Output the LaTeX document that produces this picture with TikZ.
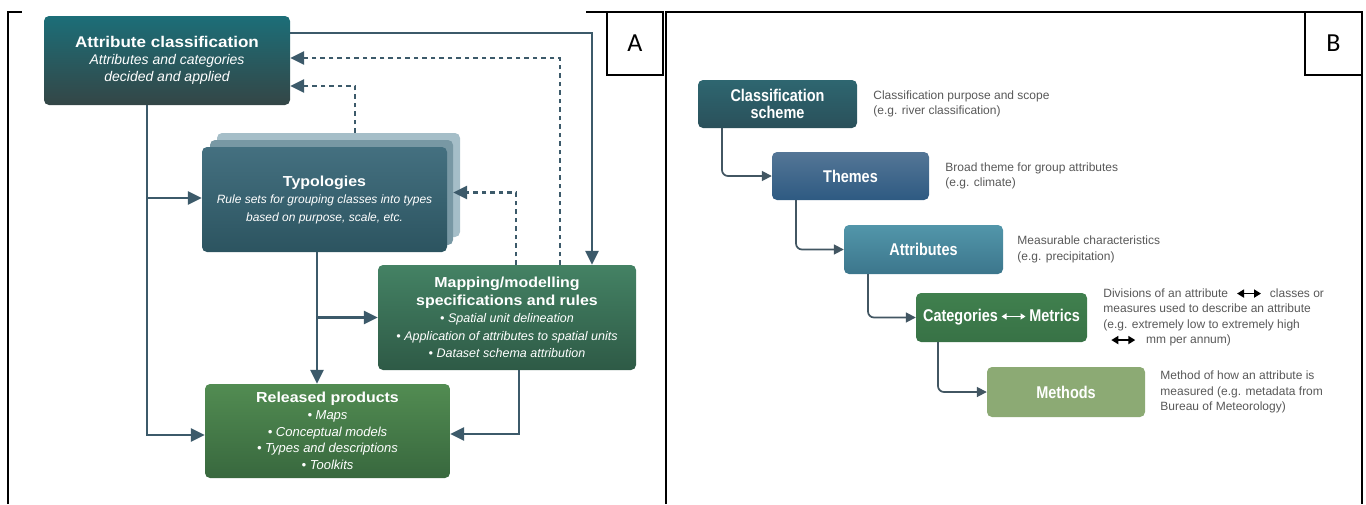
\documentclass[tikz,border=0pt]{standalone}
\usepackage{fontspec}
\setmainfont{Liberation Sans}
\newfontfamily\widefont[FakeStretch=1.1]{Liberation Sans}
\newfontfamily\narrowfont[FakeStretch=0.85]{Liberation Sans}
\newfontfamily\labelfont{Carlito}
\usetikzlibrary{arrows.meta}
\definecolor{acTop}{RGB}{28,110,120}
\definecolor{acBot}{RGB}{52,70,70}
\definecolor{typTop}{RGB}{68,112,128}
\definecolor{typBot}{RGB}{44,84,96}
\definecolor{typMid}{RGB}{120,152,164}
\definecolor{typBack}{RGB}{165,190,200}
\definecolor{mapTop}{RGB}{68,130,100}
\definecolor{mapBot}{RGB}{46,90,70}
\definecolor{rpTop}{RGB}{82,140,82}
\definecolor{rpBot}{RGB}{56,104,62}
\definecolor{csTop}{RGB}{46,102,112}
\definecolor{csBot}{RGB}{42,80,90}
\definecolor{thTop}{RGB}{84,118,150}
\definecolor{thBot}{RGB}{46,90,130}
\definecolor{atTop}{RGB}{82,150,170}
\definecolor{atBot}{RGB}{60,118,140}
\definecolor{catTop}{RGB}{64,128,78}
\definecolor{catBot}{RGB}{56,114,70}
\definecolor{meFill}{RGB}{140,170,116}
\definecolor{connA}{RGB}{60,90,106}
\definecolor{connB}{RGB}{66,86,98}
\definecolor{descGray}{RGB}{88,88,88}
\newcommand\dblarr[4]{\tikz[baseline=-0.6ex]\draw[#1,line width=#2,{Triangle[length=#3,width=#4]}-{Triangle[length=#3,width=#4]}] (0pt,0pt)--(24pt,0pt);}
\begin{document}
\begin{tikzpicture}[x=1pt,y=-1pt,
  box/.style={rounded corners=5pt, inner sep=0pt, align=center, text=white},
  back/.style={rounded corners=5pt, inner sep=0pt},
  conn/.style={draw=connA, line width=2.8pt, -{Triangle[length=14pt,width=13pt]}},
  dconn/.style={conn, dash pattern=on 4.5pt off 4pt},
  bconn/.style={draw=connB, line width=1.7pt, rounded corners=6pt, -{Triangle[length=10pt,width=10pt]}},
  desc/.style={anchor=west, align=left, inner sep=0pt, text=descGray, font=\fontsize{12}{15.5}\selectfont},
  btitle/.style={font=\narrowfont\bfseries\fontsize{17}{18}\selectfont},
  frame/.style={draw=black, line width=1.5pt},
  lbl/.style={draw=black, line width=1.2pt, inner sep=0pt, font=\labelfont\fontsize{26}{26}\selectfont}]
\useasboundingbox (0,0) rectangle (1366,504);
% ---------- frames ----------
\draw[frame] (8,504) -- (8,12) -- (22,12);
\draw[frame] (586,12) -- (607,12);
\draw[frame, line width=2pt] (666,504) -- (666,12) -- (1305,12);
\draw[frame] (1362,12) -- (1362,504);
\node[lbl, minimum width=56pt, minimum height=63pt] (labA) at (635,43.5) {A};
\node[lbl, minimum width=57pt, minimum height=63pt] (labB) at (1333.5,43.5) {B};
% ---------- panel A ----------
\node[box, minimum width=246pt, minimum height=89pt, top color=acTop, bottom color=acBot,
  font=\fontsize{14}{17}\selectfont] (ac) at (167,60.5)
  {{\widefont\bfseries\fontsize{15.5}{17}\selectfont Attribute classification}\\
   {\itshape Attributes and categories}\\ {\itshape decided and applied}};
\node[back, fill=typBack, minimum width=243pt, minimum height=104pt] (typb) at (338.5,185) {};
\node[back, fill=typMid, minimum width=243pt, minimum height=105pt] (typm) at (331.5,192.5) {};
\node[box, minimum width=245pt, minimum height=105pt, top color=typTop, bottom color=typBot,
  font=\fontsize{12}{17.5}\selectfont] (typ) at (324.5,199.5)
  {{\widefont\bfseries\fontsize{14.5}{17}\selectfont Typologies}\\
   {\itshape Rule sets for grouping classes into types}\\ {\itshape based on purpose, scale, etc.}};
\node[box, minimum width=258pt, minimum height=105pt, top color=mapTop, bottom color=mapBot,
  font=\fontsize{12.5}{17.5}\selectfont] (map) at (507,317.5)
  {{\widefont\bfseries\fontsize{14.5}{17}\selectfont Mapping/modelling}\\
   {\widefont\bfseries\fontsize{14.5}{17}\selectfont specifications and rules}\\
   {\itshape \textbullet\ Spatial unit delineation}\\
   {\itshape \textbullet\ Application of attributes to spatial units}\\
   {\itshape \textbullet\ Dataset schema attribution}};
\node[box, minimum width=245pt, minimum height=94pt, top color=rpTop, bottom color=rpBot,
  font=\fontsize{13}{16.8}\selectfont] (rp) at (327.5,431)
  {{\widefont\bfseries\fontsize{14.5}{17}\selectfont Released products}\\
   {\itshape \textbullet\ Maps}\\ {\itshape \textbullet\ Conceptual models}\\
   {\itshape \textbullet\ Types and descriptions}\\ {\itshape \textbullet\ Toolkits}};
% connectors A
\coordinate (trunk) at ([xshift=-20pt]ac.south);
\coordinate (tw) at ([yshift=1.5pt]typ.west);
\coordinate (ts) at ([xshift=-7.5pt]typ.south);
\draw[conn] (trunk) |- ([yshift=-4pt]rp.west);
\draw[conn] (trunk |- tw) -- (tw);
\draw[conn] ([yshift=27.5pt]ac.east) -| ([xshift=85pt]map.north);
\draw[dconn] ([xshift=53pt]map.north) |- ([yshift=2.5pt]ac.east);
\draw[dconn] ([xshift=16.5pt]typb.north) |- ([yshift=-25.5pt]ac.east);
\draw[dconn] ([xshift=9pt]map.north) |- (typm.east);
\draw[conn] (ts) -- (ts |- rp.north);
\draw[conn] (ts |- map.west) -- (map.west);
\draw[conn] ([xshift=12pt]map.south) |- ([yshift=-3pt]rp.east);
% ---------- panel B ----------
\node[box, btitle, minimum width=159pt, minimum height=48pt, top color=csTop, bottom color=csBot,
  font=\narrowfont\bfseries\fontsize{17}{17}\selectfont] (cs) at (777.5,104) {Classification\\scheme};
\node[box, btitle, minimum width=157pt, minimum height=48pt, top color=thTop, bottom color=thBot] (th) at (850.5,176) {Themes};
\node[box, btitle, minimum width=159pt, minimum height=49pt, top color=atTop, bottom color=atBot] (at) at (923.5,249.5) {Attributes};
\node[box, btitle, minimum width=171pt, minimum height=49pt, top color=catTop, bottom color=catBot] (cat) at (1001.5,317.5)
  {Categories\hspace{3pt}\dblarr{white}{1.4pt}{5pt}{6pt}\hspace{3pt}Metrics};
\node[box, btitle, minimum width=158pt, minimum height=50pt, fill=meFill] (me) at (1066,392) {Methods};
\node[desc] (csd) at ([xshift=16pt]cs.east) {Classification purpose and scope\\(e.g. river classification)};
\node[desc] (thd) at ([xshift=16pt]th.east) {Broad theme for group attributes\\(e.g. climate)};
\node[desc] (atd) at ([xshift=14pt]at.east) {Measurable characteristics\\(e.g. precipitation)};
\node[desc] (catd) at ([xshift=16pt]cat.east)
  {Divisions of an attribute\hspace{8pt}\dblarr{black}{1.8pt}{7pt}{8pt}\hspace{8pt}classes or\\
   measures used to describe an attribute\\
   (e.g. extremely low to extremely high\\
   \hspace*{7pt}\dblarr{black}{1.8pt}{7pt}{8pt}\hspace{10pt}mm per annum)};
\node[desc] (med) at ([xshift=15pt]me.east) {Method of how an attribute is\\measured (e.g. metadata from\\Bureau of Meteorology)};
% connectors B
\draw[bconn] ([xshift=-55.5pt]cs.south) |- (th.west);
\draw[bconn] ([xshift=-54.5pt]th.south) |- (at.west);
\draw[bconn] ([xshift=-55.5pt]at.south) |- (cat.west);
\draw[bconn] ([xshift=-63.5pt]cat.south) |- (me.west);
\end{tikzpicture}
\end{document}
